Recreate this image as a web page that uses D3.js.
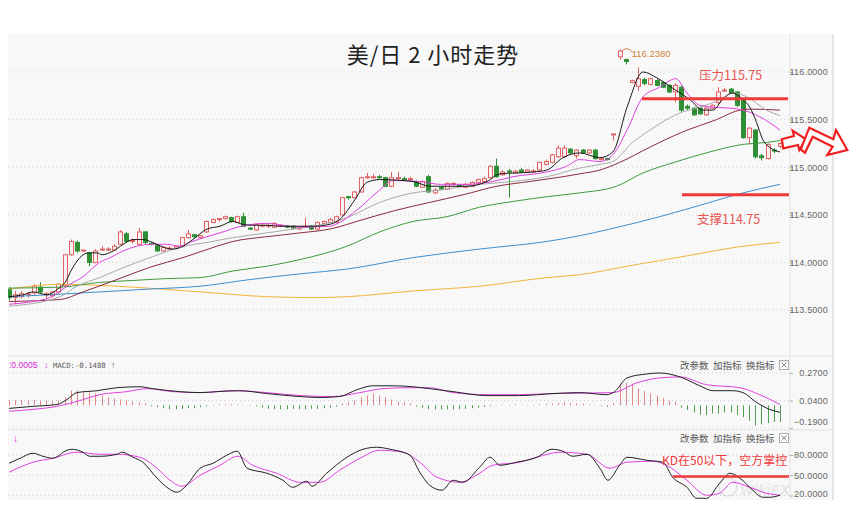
<!DOCTYPE html>
<html>
<head>
<meta charset="utf-8">
<script src="https://cdn.jsdelivr.net/npm/d3@7"></script>
<style>
body { margin: 0; background: #fff; }
svg { display: block; font-family: "Liberation Sans", Arial, sans-serif; }
</style>
</head>
<body>
<svg></svg>
<script>
// candles, 2h bars
const opens  = [113.72,113.63,113.64,113.66,113.68,113.74,113.66,113.65,113.69,113.76,114.08,114.21,114.12,114.10,114.00,114.13,114.13,114.13,114.19,114.30,114.22,114.19,114.32,114.20,114.18,114.12,114.14,114.15,114.17,114.26,114.29,114.26,114.32,114.42,114.45,114.46,114.47,114.42,114.48,114.36,114.34,114.38,114.38,114.37,114.38,114.38,114.38,114.35,114.37,114.38,114.35,114.41,114.42,114.42,114.50,114.69,114.68,114.74,114.89,114.89,114.90,114.89,114.80,114.88,114.88,114.87,114.85,114.79,114.90,114.73,114.79,114.77,114.82,114.81,114.79,114.80,114.84,114.85,114.89,115.01,114.92,114.96,114.94,114.97,114.95,114.95,114.97,115.03,115.05,115.11,115.11,115.19,115.12,115.18,115.15,115.18,115.08,115.09,115.34,116.16,116.13,115.89,115.85,115.92,115.87,115.91,115.89,115.86,115.79,115.84,115.64,115.62,115.62,115.55,115.62,115.68,115.80,115.82,115.79,115.70,115.31,115.39,115.12,115.09,115.18,115.22];
const highs  = [113.74,113.70,113.70,113.69,113.77,113.79,113.69,113.70,113.78,114.09,114.24,114.23,114.13,114.11,114.14,114.17,114.16,114.19,114.34,114.32,114.25,114.36,114.33,114.21,114.19,114.17,114.17,114.18,114.27,114.34,114.30,114.29,114.44,114.46,114.46,114.49,114.48,114.49,114.52,114.37,114.41,114.40,114.40,114.42,114.40,114.39,114.39,114.38,114.47,114.39,114.43,114.44,114.47,114.49,114.69,114.70,114.75,114.90,114.94,114.93,114.92,114.90,114.95,114.95,114.90,114.90,114.86,114.86,114.92,114.78,114.80,114.84,114.84,114.82,114.83,114.85,114.88,114.90,115.02,115.09,114.97,114.98,114.97,114.99,114.98,114.98,115.06,115.08,115.14,115.23,115.23,115.20,115.19,115.19,115.19,115.19,115.10,115.10,115.35,116.238,116.14,115.92,116.05,115.94,115.94,115.93,115.90,115.87,115.88,115.86,115.66,115.63,115.63,115.63,115.66,115.84,115.83,115.83,115.80,115.72,115.42,115.40,115.14,115.25,115.20,115.26];
const lows   = [113.60,113.56,113.62,113.63,113.66,113.67,113.62,113.63,113.67,113.74,114.07,114.10,114.11,113.96,113.99,114.12,114.12,114.12,114.18,114.20,114.20,114.18,114.19,114.18,114.11,114.11,114.13,114.14,114.16,114.25,114.26,114.25,114.31,114.41,114.43,114.45,114.42,114.41,114.37,114.34,114.33,114.37,114.36,114.36,114.37,114.36,114.35,114.34,114.36,114.34,114.34,114.40,114.41,114.41,114.49,114.66,114.67,114.73,114.88,114.88,114.88,114.79,114.79,114.87,114.86,114.85,114.79,114.78,114.73,114.72,114.76,114.76,114.80,114.79,114.78,114.79,114.83,114.84,114.88,114.89,114.91,114.68,114.93,114.94,114.94,114.94,114.96,115.02,115.04,115.10,115.10,115.14,115.09,115.14,115.14,115.08,115.07,115.07,115.28,116.13,116.08,115.88,115.80,115.86,115.86,115.85,115.83,115.78,115.68,115.58,115.60,115.54,115.55,115.54,115.61,115.66,115.79,115.77,115.63,115.30,115.24,115.09,115.07,115.08,115.15,115.20];
const closes = [113.63,113.66,113.67,113.67,113.75,113.69,113.67,113.69,113.77,114.08,114.22,114.12,114.13,114.00,114.12,114.14,114.14,114.17,114.32,114.22,114.23,114.32,114.21,114.19,114.12,114.16,114.15,114.17,114.26,114.30,114.27,114.28,114.43,114.45,114.46,114.48,114.43,114.48,114.38,114.35,114.40,114.39,114.39,114.41,114.39,114.37,114.36,114.37,114.38,114.35,114.42,114.43,114.45,114.48,114.68,114.68,114.74,114.89,114.90,114.90,114.89,114.80,114.89,114.89,114.87,114.88,114.80,114.85,114.74,114.76,114.77,114.83,114.83,114.80,114.82,114.84,114.87,114.88,115.01,114.90,114.95,114.95,114.96,114.95,114.97,114.96,115.05,115.06,115.13,115.20,115.20,115.15,115.18,115.15,115.18,115.09,115.09,115.08,115.35,116.22,116.11,115.91,115.93,115.88,115.93,115.86,115.84,115.79,115.86,115.60,115.62,115.55,115.56,115.62,115.65,115.79,115.81,115.78,115.65,115.31,115.41,115.11,115.10,115.24,115.17,115.25];

// moving averages: [bar index, price]
const ma5 = [[0,113.64],[2.3,113.66],[3.9,113.69],[6.2,113.66],[7.9,113.72],[9.1,113.79],[10.2,113.93],[11.5,114.05],[12.8,114.10],[14.3,114.10],[15.1,114.08],[16.9,114.12],[18.5,114.19],[20.1,114.24],[21.7,114.24],[23.3,114.21],[25,114.16],[26.6,114.14],[28.2,114.17],[29.8,114.24],[32.1,114.35],[34.2,114.38],[36.3,114.43],[37.9,114.40],[39.5,114.39],[41.8,114.39],[43.9,114.38],[49.3,114.38],[52,114.40],[53.6,114.45],[56.1,114.66],[58,114.84],[60.1,114.87],[65.5,114.85],[68.2,114.80],[71,114.80],[74.2,114.80],[77.5,114.85],[79.6,114.93],[85,114.95],[87.2,114.97],[89.8,115.10],[92.5,115.15],[95.8,115.10],[97.9,115.16],[100.2,115.63],[102.8,116.00],[105,115.94],[107.6,115.83],[110.4,115.71],[112.5,115.60],[114.1,115.60],[115.7,115.71],[117.3,115.78],[119,115.71],[120.1,115.63],[121.2,115.47],[122.2,115.29],[123.3,115.21],[125,115.16]];
const ma10 = [[0,113.56],[3.9,113.59],[6.6,113.63],[8.3,113.70],[9.9,113.77],[12,113.85],[14.7,114.00],[16.4,114.05],[18.5,114.12],[20.7,114.17],[22.9,114.19],[25.6,114.19],[27.7,114.17],[29.3,114.21],[32.1,114.27],[34.7,114.32],[37,114.37],[39.5,114.40],[41.8,114.41],[44.4,114.39],[47.2,114.37],[52,114.38],[53.6,114.42],[56.4,114.55],[60.1,114.76],[62.2,114.86],[66.6,114.85],[69.9,114.82],[74.2,114.82],[78.4,114.85],[81.7,114.90],[87.2,114.95],[90.4,115.01],[92.5,115.08],[95.8,115.06],[97.9,115.13],[100.2,115.39],[102.8,115.74],[105.5,115.84],[108.1,115.93],[109.9,115.78],[112,115.65],[114.1,115.63],[116.9,115.62],[119,115.60],[121.7,115.53],[125,115.39]];
const ma20 = [[0,113.54],[8.3,113.64],[11,113.75],[14.7,113.84],[19.1,113.96],[23.3,114.06],[27.7,114.16],[32.1,114.21],[36.3,114.26],[41.8,114.31],[47.2,114.36],[49.3,114.38],[54.8,114.47],[60.1,114.63],[65.5,114.73],[69.9,114.76],[76.3,114.82],[81.7,114.85],[87.2,114.90],[92.5,114.99],[95.8,115.03],[97.9,115.06],[101.1,115.26],[103.9,115.39],[106.6,115.50],[109.2,115.58],[112,115.63],[115.2,115.71],[117.3,115.78],[119.6,115.74],[122.8,115.60],[125,115.54]];
const ma30 = [[0,113.59],[8.3,113.61],[12,113.69],[17.5,113.82],[22.9,113.95],[28.2,114.05],[33.7,114.17],[36.3,114.22],[41.8,114.27],[47.2,114.31],[52,114.35],[57.4,114.45],[62.9,114.55],[68.2,114.63],[73.6,114.71],[79.1,114.80],[84.4,114.85],[89.8,114.90],[92.5,114.93],[95.8,114.97],[99,115.05],[103.9,115.21],[109.2,115.37],[114.7,115.50],[118.5,115.60],[120.1,115.61],[125,115.60]];
const ma60 = [[0,113.73],[8.3,113.74],[14.7,113.79],[20.1,113.81],[25.6,113.83],[31,113.84],[36.3,113.91],[41.8,113.96],[47.2,114.03],[54.8,114.17],[60.1,114.32],[65.5,114.43],[71,114.48],[76.3,114.58],[81.7,114.64],[87.2,114.69],[92.5,114.73],[98.5,114.80],[102.8,114.94],[108.3,115.06],[113.6,115.16],[119,115.24],[122.8,115.26],[125,115.28]];
const ma120 = [[0,113.64],[6.6,113.66],[14.7,113.69],[22.9,113.72],[31,113.75],[39.1,113.82],[47.2,113.88],[54.8,113.93],[65.5,114.05],[76.3,114.14],[87.2,114.22],[92.5,114.28],[97.4,114.35],[105.5,114.48],[113.6,114.63],[119,114.73],[125,114.82]];
const ma250 = [[0,113.72],[8.3,113.77],[20.1,113.74],[31,113.69],[41.8,113.64],[49.3,113.63],[54.8,113.64],[65.5,113.70],[76.3,113.75],[87.2,113.84],[92.5,113.87],[100.2,113.96],[110.9,114.08],[119,114.17],[125,114.21]];

// MACD
const macdHist = [0.04,0.045,0.045,0.04,0.045,0.04,0.04,0.035,0.04,
  0.066,0.123,0.123,0.107,0.107,0.099,0.082,0.066,0.058,0.049,0.041,0.033,0.025,0.016,
  -0.008,-0.016,-0.025,-0.033,-0.033,-0.03,-0.025,-0.025,-0.016,-0.008,-0.004,0.008,0.008,0.008,0.008,0.004,-0.004,-0.008,-0.02,
  -0.03,-0.033,-0.035,-0.033,-0.03,-0.033,-0.035,-0.03,-0.03,-0.025,-0.02,-0.012,
  0.016,0.025,0.041,0.066,0.082,0.099,0.082,0.066,0.049,0.033,0.025,0.016,
  -0.01,
  -0.025,-0.033,-0.035,-0.035,-0.035,-0.035,-0.033,-0.03,-0.025,-0.02,-0.015,
  -0.008,-0.004,0.004,0.004,0.008,0.004,-0.004,0.004,0.008,
  0.012,0.016,0.02,0.025,0.02,0.016,0.012,0.008,0.004,-0.008,-0.012,
  0.02,
  0.18,0.19,0.18,0.14,0.12,0.10,0.08,0.06,0.04,0.03,
  -0.02,-0.04,-0.06,-0.08,-0.08,-0.07,-0.07,-0.06,-0.06,-0.08,-0.10,-0.13,-0.17,-0.16,-0.15,-0.14,-0.14];
const macdDif = [[0,-0.026],[3.9,-0.009],[7.8,0.007],[9.4,0.048],[11,0.106],[14.3,0.122],[17.5,0.147],[21.2,0.155],[23.3,0.139],[27.7,0.114],[31,0.106],[33.7,0.114],[37.4,0.122],[41.8,0.098],[47.2,0.073],[50.4,0.065],[53.6,0.073],[56.4,0.130],[59,0.163],[62.2,0.163],[65.5,0.155],[68.2,0.139],[72,0.114],[77.5,0.081],[82.8,0.081],[88.2,0.098],[92.5,0.106],[96.9,0.089],[98.2,0.114],[100.2,0.229],[103.4,0.262],[105.5,0.270],[108.8,0.237],[112,0.163],[114.1,0.122],[117.3,0.122],[119,0.106],[121.2,0.024],[123.3,-0.034],[125,-0.059]];
const macdDea = [[0,-0.050],[3.9,-0.034],[7.8,-0.009],[11,0.032],[14.7,0.089],[19.1,0.114],[22.4,0.139],[26.6,0.114],[31,0.106],[36.3,0.122],[41.8,0.106],[47.2,0.081],[52.5,0.073],[56.9,0.106],[60.6,0.139],[64.5,0.147],[68.2,0.147],[72,0.106],[77.5,0.089],[82.8,0.089],[88.2,0.098],[97.9,0.106],[101.8,0.188],[105.5,0.229],[108.8,0.237],[113.1,0.172],[118.5,0.147],[121.7,0.089],[125,0.007]];

// KD
const kdK = [[0,67.8],[1.8,75.2],[3.9,82.6],[5.5,78.1],[7.1,75.2],[9.4,87],[10.2,88.5],[12,84.1],[13.1,78.1],[14.7,78.1],[17.5,81.1],[18.3,84.1],[20.1,76.7],[21.7,69.3],[24,45.6],[25.6,32.2],[27.2,24.8],[28.5,32.2],[31,60.4],[33.1,67.8],[35.3,79.6],[37,85.6],[38.6,60.4],[41.8,53],[44.4,42.6],[46,32.2],[48.3,41.1],[49.1,33.7],[51.5,53],[54.8,76.7],[57.4,88.5],[59.6,91.5],[61.8,88.5],[65,79.6],[66.6,54.4],[68.2,35.2],[70.2,27.8],[72,42.6],[73.6,39.6],[76.3,61.9],[78,76.7],[79.6,64.8],[82.3,69.3],[85.6,76.7],[88,88.5],[89.8,85.6],[91.4,78.1],[93.7,81.1],[95.8,60.4],[97.1,42.6],[99,64.8],[100.2,76.7],[103.4,72.2],[106,69.3],[107.6,47],[109.9,32.2],[111.5,15.9],[113.1,15.9],[115.2,38.1],[116.9,53],[118.5,45.6],[120.6,27.8],[122.2,17.4],[123.3,17.4],[125,20.4]];
const kdD = [[0,54.4],[3.9,69.3],[7.1,75.2],[11,84.1],[14.7,81.1],[17.5,81.1],[21.2,76.7],[24,60.4],[26.1,42.6],[28,33.7],[31,50],[34.2,64.8],[37.1,78.1],[39.5,64.8],[43.4,53],[47.2,39.6],[50.4,39.6],[53.6,57.4],[56.9,75.2],[60.1,87],[63.9,84.1],[66.6,69.3],[69.4,47],[73.1,39.6],[76.3,53],[78.4,64.8],[82.8,69.3],[86.1,78.1],[89.3,84.1],[93.7,81.1],[97.4,60.4],[100.2,69.3],[104.4,70.7],[106.6,64.8],[109.9,42.6],[113.1,20.4],[115.2,23.3],[117.3,39.6],[120.1,32.2],[122.8,23.3],[125,20.4]];

const priceTicks = [113.5, 114, 114.5, 115, 115.5, 116];
const macdTicks = [-0.19, 0.04, 0.27];
const kdTicks = [20, 50, 80];

const size = {w: 851, h: 514};
const svg = d3.select('svg').attr('width', size.w).attr('height', size.h);

const pane = {l: 8, r: 790, axisR: 833, t: 34, b: 500, mainB: 356, macdB: 430};

const x = d3.scaleLinear().domain([0, closes.length - 1]).range([9, 780]);
const yP = d3.scaleLinear().domain([113.5, 116]).range([310, 72]);
const yM = d3.scaleLinear().domain([-0.19, 0.27]).range([428, 373]);
const yK = d3.scaleLinear().domain([20, 80]).range([495.5, 455]);

// background + frame
svg.append('rect').attr('x', pane.l).attr('y', pane.t).attr('width', pane.axisR - pane.l).attr('height', pane.b - pane.t).attr('fill', '#f8f8f8');
svg.append('g').attr('stroke', '#e3e3e3')
  .selectAll('line').data([pane.mainB, pane.macdB]).join('line')
  .attr('x1', pane.l).attr('x2', pane.axisR).attr('y1', d => d).attr('y2', d => d);
svg.append('line').attr('x1', pane.r).attr('x2', pane.r).attr('y1', pane.t).attr('y2', pane.b).attr('stroke', '#e3e3e3');
svg.append('line').attr('x1', pane.axisR).attr('x2', pane.axisR).attr('y1', pane.t).attr('y2', pane.b).attr('stroke', '#cfcfcf');

const defs = svg.append('defs');
[['clipMain', pane.t, pane.mainB], ['clipMacd', pane.mainB, pane.macdB], ['clipKd', pane.macdB, pane.b]].forEach(c => {
  defs.append('clipPath').attr('id', c[0]).append('rect')
    .attr('x', pane.l).attr('y', c[1]).attr('width', pane.r - pane.l).attr('height', c[2] - c[1]);
});

// grids
function grid(scale, ticks) {
  svg.append('g').attr('stroke', '#cfcfcf').attr('stroke-dasharray', '1,3')
    .selectAll('line').data(ticks).join('line')
    .attr('x1', pane.l).attr('x2', pane.r)
    .attr('y1', d => scale(d)).attr('y2', d => scale(d));
}
grid(yP, priceTicks);
grid(yM, macdTicks);
grid(yK, kdTicks);

// watermark (drawn early, very faint)
const wm = svg.append('g').attr('opacity', 0.07);
wm.append('circle').attr('cx', 728).attr('cy', 487).attr('r', 9).attr('fill', 'none').attr('stroke', '#000').attr('stroke-width', 2);
wm.append('text').attr('x', 740).attr('y', 495).style('font-size', '15px').style('font-style', 'italic')
  .style('font-weight', 'bold').attr('fill', '#000').text('WikiFX');

// right axes
function axis(scale, ticks, fmt) {
  const g = svg.append('g').attr('transform', `translate(${pane.r},0)`)
    .call(d3.axisRight(scale).tickValues(ticks).tickFormat(fmt).tickSize(3).tickPadding(2));
  g.select('.domain').remove();
  g.selectAll('.tick line').attr('stroke', '#aaa');
  g.selectAll('.tick text').attr('x', 38).attr('text-anchor', 'end')
    .attr('fill', '#666').style('font-size', '9px').style('letter-spacing', '0.2px');
  return g;
}
axis(yP, priceTicks, d3.format('.4f'));
const macdAxis = axis(yM, macdTicks, d3.format('.4f'));
macdAxis.selectAll('.tick text').filter(d => d < 0).attr('dy', '-0.4em');
const kdAxis = axis(yK, kdTicks, d3.format('.4f'));
kdAxis.selectAll('.tick text').filter(d => d === 20).attr('dy', '0.1em');

// title
svg.append('text').attr('x', 433).attr('y', 63).attr('text-anchor', 'middle')
  .style('font-family', '"Noto Sans CJK SC", sans-serif').style('font-size', '22px')
  .style('letter-spacing', '1px').attr('fill', '#222').text('美/日 2 小时走势');

// moving averages
const mainG = svg.append('g').attr('clip-path', 'url(#clipMain)');
const priceLine = d3.line().x(d => x(d[0])).y(d => yP(d[1])).curve(d3.curveMonotoneX);
const maSeries = [
  {pts: ma250, color: '#f2b53c'},
  {pts: ma120, color: '#3d8fd1'},
  {pts: ma60, color: '#3f9a3f'},
  {pts: ma30, color: '#8c2b3b'},
  {pts: ma20, color: '#a9a9a9'},
  {pts: ma10, color: '#e040e0'},
  {pts: ma5, color: '#1a1a1a'}
];

// candles
const bars = closes.map((c, i) => ({i: i, o: opens[i], h: highs[i], l: lows[i], c: c, up: c >= opens[i]}));
const upCol = '#e06262', downCol = '#2f8f35';

const candleG = mainG.append('g');
candleG.selectAll('line').data(bars).join('line')
  .attr('x1', d => Math.round(x(d.i)) + 0.5).attr('x2', d => Math.round(x(d.i)) + 0.5)
  .attr('y1', d => yP(d.h)).attr('y2', d => yP(d.l))
  .attr('stroke', d => d.up ? upCol : downCol);
candleG.selectAll('rect').data(bars).join('rect')
  .attr('x', d => Math.round(x(d.i)) - 1.5)
  .attr('y', d => yP(Math.max(d.o, d.c)))
  .attr('width', 4)
  .attr('height', d => Math.max(1, yP(Math.min(d.o, d.c)) - yP(Math.max(d.o, d.c))))
  .attr('fill', d => d.up ? '#fbf3f3' : downCol)
  .attr('stroke', d => d.up ? upCol : downCol)
  .attr('stroke-width', 1);

mainG.append('g').selectAll('path').data(maSeries).join('path')
  .attr('d', d => priceLine(d.pts))
  .attr('fill', 'none').attr('stroke', d => d.color).attr('stroke-width', 1);

// high marker
const hiIdx = d3.maxIndex(highs);
svg.append('path')
  .attr('d', `M${x(hiIdx) + 3},${yP(highs[hiIdx]) + 1} q5,-4 10,2`)
  .attr('fill', 'none').attr('stroke', '#d0843f');
svg.append('text').attr('x', x(hiIdx) + 12).attr('y', yP(highs[hiIdx]) + 8)
  .attr('fill', '#d0843f').style('font-size', '9.5px').text(d3.format('.4f')(highs[hiIdx]));

// resistance / support
const red = '#ee3a3a';
svg.append('line').attr('x1', 642).attr('x2', 788).attr('y1', yP(115.72)).attr('y2', yP(115.72))
  .attr('stroke', red).attr('stroke-width', 3);
svg.append('line').attr('x1', 682).attr('x2', 789).attr('y1', yP(114.71)).attr('y2', yP(114.71))
  .attr('stroke', red).attr('stroke-width', 3);
svg.append('text').attr('x', 699).attr('y', 80).attr('fill', '#e85550')
  .style('font-family', '"Noto Sans CJK SC", sans-serif').style('font-size', '12.5px').text('压力115.75');
svg.append('text').attr('x', 697).attr('y', 224).attr('fill', '#e85550')
  .style('font-family', '"Noto Sans CJK SC", sans-serif').style('font-size', '12.5px').text('支撑114.75');

// big outlined arrow
const arrowPts = [
  [[781.7,139.3],[794,136],[792.7,130.7],[806,139.3],[799.3,150],[798,145],[783.3,148.3]],
  [[800.7,149.3],[809.3,127.7],[833.3,139.3],[836,130],[847.3,150],[827.3,155],[832.7,146.7],[812.7,136.7],[805,152.7]]
];
svg.append('g').selectAll('path').data(arrowPts).join('path')
  .attr('d', d => 'M' + d.join('L') + 'Z')
  .attr('fill', '#fff').attr('stroke', '#f01e1e').attr('stroke-width', 2.2).attr('stroke-linejoin', 'miter');

// MACD panel
const macdG = svg.append('g').attr('clip-path', 'url(#clipMacd)');
macdG.append('g').selectAll('line').data(macdHist).join('line')
  .attr('x1', (d, i) => Math.round(x(i)) + 0.5).attr('x2', (d, i) => Math.round(x(i)) + 0.5)
  .attr('y1', yM(0)).attr('y2', d => yM(d))
  .attr('stroke', d => Math.abs(d) < 0.005 ? '#bbb' : (d > 0 ? '#e08888' : '#4f9f4f'));
const macdLine = d3.line().x(d => x(d[0])).y(d => yM(d[1])).curve(d3.curveMonotoneX);
macdG.append('path').attr('d', macdLine(macdDea)).attr('fill', 'none').attr('stroke', '#e040e0');
macdG.append('path').attr('d', macdLine(macdDif)).attr('fill', 'none').attr('stroke', '#222');

const lab = svg.append('g').style('font-size', '8.5px');
lab.append('text').attr('x', 9).attr('y', 368).attr('fill', '#d626d6').text(':0.0005');
lab.append('text').attr('x', 44).attr('y', 368).attr('fill', '#d626d6').text('↓');
lab.append('text').attr('x', 53).attr('y', 368).attr('fill', '#555')
  .style('font-family', '"DejaVu Sans Mono", monospace').style('font-size', '7.3px').text('MACD:-0.1480');
lab.append('text').attr('x', 111).attr('y', 368).attr('fill', '#555').text('↑');

// KD panel
const kdG = svg.append('g').attr('clip-path', 'url(#clipKd)');
const kdLine = d3.line().x(d => x(d[0])).y(d => yK(d[1])).curve(d3.curveMonotoneX);
kdG.append('path').attr('d', kdLine(kdD)).attr('fill', 'none').attr('stroke', '#e040e0');
kdG.append('path').attr('d', kdLine(kdK)).attr('fill', 'none').attr('stroke', '#222');
svg.append('text').attr('x', 13).attr('y', 442).attr('fill', '#d626d6').style('font-size', '10px').text('↓');

// panel buttons
const buttons = ['改参数', '加指标', '换指标'];
[365, 438].forEach(cy => {
  const g = svg.append('g').style('font-family', '"Noto Sans CJK SC", sans-serif').style('font-size', '9.5px').attr('fill', '#555');
  g.selectAll('text').data(buttons).join('text')
    .attr('x', (d, i) => 680 + i * 33).attr('y', cy + 3.5).text(d => d);
  g.append('rect').attr('x', 779.5).attr('y', cy - 4.5).attr('width', 9).attr('height', 9)
    .attr('fill', '#fff').attr('stroke', '#aaa');
  g.append('path').attr('d', `M${781.5},${cy - 2.5}L${786.5},${cy + 2.5}M${786.5},${cy - 2.5}L${781.5},${cy + 2.5}`)
    .attr('stroke', '#888');
});

// KD note
svg.append('line').attr('x1', 673).attr('x2', 789).attr('y1', yK(48)).attr('y2', yK(48))
  .attr('stroke', '#ee3a3a').attr('stroke-width', 2.5);
svg.append('text').attr('x', 662).attr('y', 465).attr('fill', '#f03a3a')
  .style('font-family', '"Noto Sans CJK SC", sans-serif').style('font-size', '12px').text('KD在50以下，空方掌控');
</script>
</body>
</html>
